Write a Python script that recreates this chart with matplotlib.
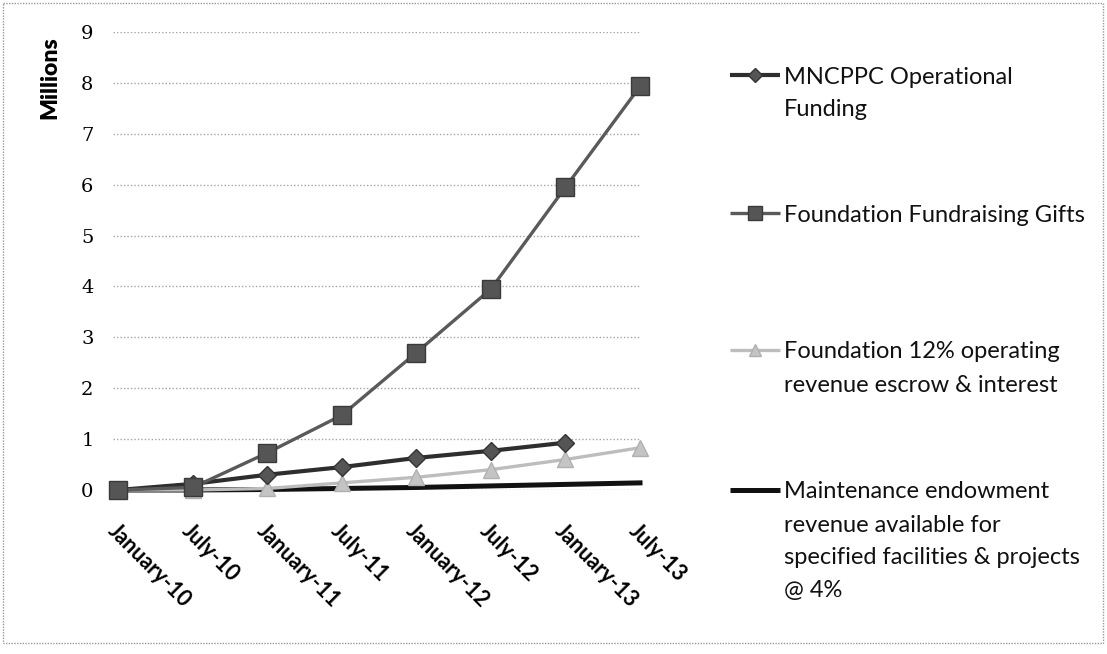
import numpy as np
import matplotlib
matplotlib.use("Agg")
import matplotlib.pyplot as plt
from matplotlib.patches import Rectangle

# data (millions)
periods = ['January-10', 'July-10', 'January-11', 'July-11',
           'January-12', 'July-12', 'January-13', 'July-13']
mncppc = [0.0, 0.12, 0.30, 0.45, 0.63, 0.77, 0.93]          # no value for July-13
fundraising = [0.0, 0.05, 0.73, 1.47, 2.70, 3.95, 5.95, 7.93]
escrow = [0.0, 0.0, 0.03, 0.14, 0.25, 0.40, 0.60, 0.83]
maintenance = [0.0, 0.0, 0.01, 0.03, 0.05, 0.08, 0.11, 0.14]

yticks = list(range(0, 10))

W, H = 1107, 654
fig = plt.figure(figsize=(W / 100, H / 100), dpi=100)
fig.patch.set_facecolor('white')

# pixel-space overlay for frame and legend
lax = fig.add_axes([0, 0, 1, 1], zorder=0)
lax.set_xlim(0, W)
lax.set_ylim(H, 0)
lax.axis('off')

ax = fig.add_axes([113 / W, 1 - 490 / H, (640 - 113) / W, (490 - 32) / H], zorder=1)
ax.patch.set_alpha(0)

x = np.arange(len(periods))

styles = {
    'mncppc': dict(color='#2e2e2e', lw=3.0, marker='D', ms=9, mfc='#555555', mec='#333333'),
    'fund': dict(color='#5a5a5a', lw=2.4, marker='s', ms=13, mfc='#555555', mec='#3a3a3a'),
    'escrow': dict(color='#bdbdbd', lw=2.4, marker='^', ms=11, mfc='#c4c4c4', mec='#b0b0b0'),
    'maint': dict(color='#111111', lw=3.6),
}

ax.plot(x, maintenance, zorder=3, clip_on=False, **styles['maint'])
ax.plot(x, escrow, zorder=4, clip_on=False, **styles['escrow'])
ax.plot(x[:len(mncppc)], mncppc, zorder=5, clip_on=False, **styles['mncppc'])
ax.plot(x, fundraising, zorder=6, clip_on=False, **styles['fund'])

ax.set_xlim(-0.07, 7.0)
ax.set_ylim(0, 9)
ax.set_yticks(yticks)
ax.set_yticklabels([str(v) for v in yticks], family='DejaVu Serif', fontsize=14)
ax.yaxis.grid(True, linestyle=(0, (1, 1.5)), color='#a5a5a5', lw=1.0)
ax.set_axisbelow(True)
for s in ax.spines.values():
    s.set_visible(False)
ax.tick_params(axis='y', length=0, pad=14)
ax.tick_params(axis='x', length=0, pad=22)
ax.set_xticks(x)
ax.set_xticklabels(periods, rotation=-45, ha='left', va='top', rotation_mode='anchor',
                   family='Lato', fontweight='bold', fontsize=15.5)

fig.text(50 / W, 1 - 78 / H, 'Millions', rotation=90, ha='center', va='center',
         family='Lato', fontweight='heavy', fontsize=16.5)

# legend, drawn by hand to match the layout of the original
entries = [
    ('mncppc', 75, ['MNCPPC Operational', 'Funding']),
    ('fund', 213, ['Foundation Fundraising Gifts']),
    ('escrow', 350, ['Foundation 12% operating', 'revenue escrow & interest']),
    ('maint', 490, ['Maintenance endowment', 'revenue available for',
                    'specified facilities & projects', '@ 4%']),
]
for key, y0, lines in entries:
    st = dict(styles[key])
    mk = st.pop('marker', None)
    ms = st.pop('ms', None)
    mfc = st.pop('mfc', None)
    mec = st.pop('mec', None)
    lax.plot([730, 780], [y0, y0], color=st['color'], lw=st['lw'], solid_capstyle='butt')
    if mk:
        lax.plot([755], [y0], marker=mk, ms=ms * 0.8, mfc=mfc, mec=mec, ls='none')
    for i, line in enumerate(lines):
        lax.text(784, y0 + i * 33, line, ha='left', va='center_baseline',
                 family='Lato', fontsize=17, color='#111111')

# chart frame
lax.add_patch(Rectangle((3, 3), W - 7, 640, fill=False, ec='#9a9a9a', lw=1.0,
                        ls=(0, (1, 1))))

fig.savefig('out.png', dpi=100)
